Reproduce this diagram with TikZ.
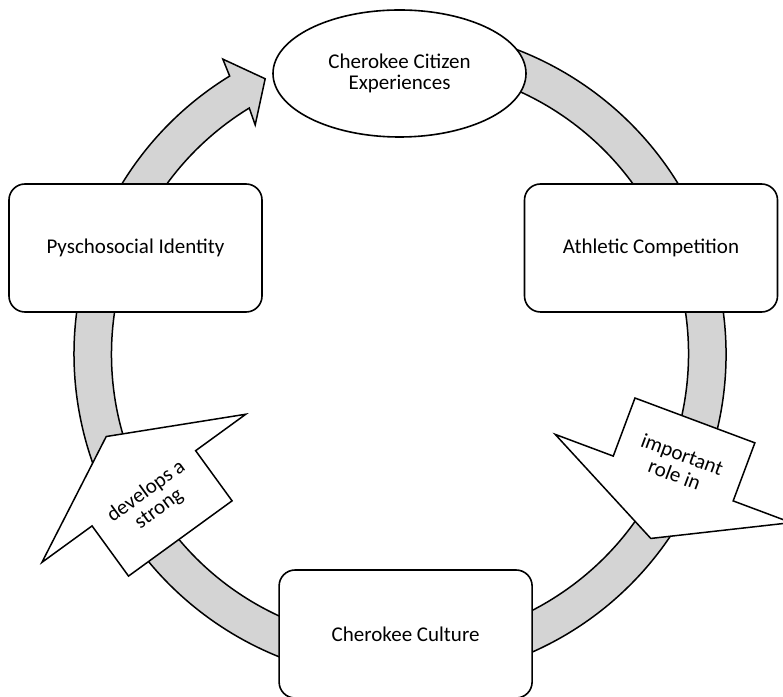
\documentclass[tikz,border=0pt]{standalone}
\usepackage{fontspec}
\setmainfont{Carlito}
\usetikzlibrary{shapes.geometric}
\definecolor{ringgray}{RGB}{212,212,212}
\tikzset{
  lbl/.style={font=\fontsize{21}{21.5}\selectfont, align=center, text=black},
  stage/.style={draw=black, line width=1.6pt, fill=white, rounded corners=16pt,
    minimum width=253pt, minimum height=128pt, inner sep=0pt, lbl},
  oval/.style={ellipse, draw=black, line width=1.6pt, fill=white,
    minimum width=253pt, minimum height=127pt, inner sep=0pt, lbl},
  ring/.style={draw=black, line width=1.5pt, fill=ringgray, line join=miter},
  callout/.style={draw=black, line width=1.5pt, fill=white, line join=miter}
}
\begin{document}
\begin{tikzpicture}[x=1pt,y=1pt]
\useasboundingbox (0,0) rectangle (783,696);
\clip (0,0) rectangle (783,696);

% circular arrow running clockwise, head at the upper left
\begin{scope}[shift={(400,342)}]
  \path[ring] (100:326) arc[start angle=100, end angle=-238.5, radius=326]
    -- (-239:344) -- (-243.9:306.5) -- (-237.7:271) -- (-238.5:288.5)
    arc[start angle=-238.5, end angle=100, radius=288.5] -- cycle;
\end{scope}

% stages of the cycle
\node[oval]  (exp) at (399.5,622.5) {Cherokee Citizen\\Experiences};
\node[stage] (psy) at (135.5,448)   {Pyschosocial Identity};
\node[stage] (ath) at (651,448)     {Athletic Competition};
\node[stage] (cul) at (405.6,62)    {Cherokee Culture};

% labelled block arrows
\begin{scope}[shift={(143.85,207.7)}, rotate=126]
  \draw[callout] (-62,-64) -- (0,-64) -- (0,-126) -- (64,0) -- (0,126)
    -- (0,64) -- (-62,64) -- cycle;
  \node[lbl, rotate=36] (devtxt) at (-15,0) {develops a\\strong};
\end{scope}
\begin{scope}[shift={(673.2,217.5)}, rotate=249.5]
  \draw[callout] (-62,-64) -- (0,-64) -- (0,-126) -- (64,0) -- (0,126)
    -- (0,64) -- (-62,64) -- cycle;
  \node[lbl, rotate=-20.5] (roletxt) at (-15,0) {important\\role in};
\end{scope}
\end{tikzpicture}
\end{document}
